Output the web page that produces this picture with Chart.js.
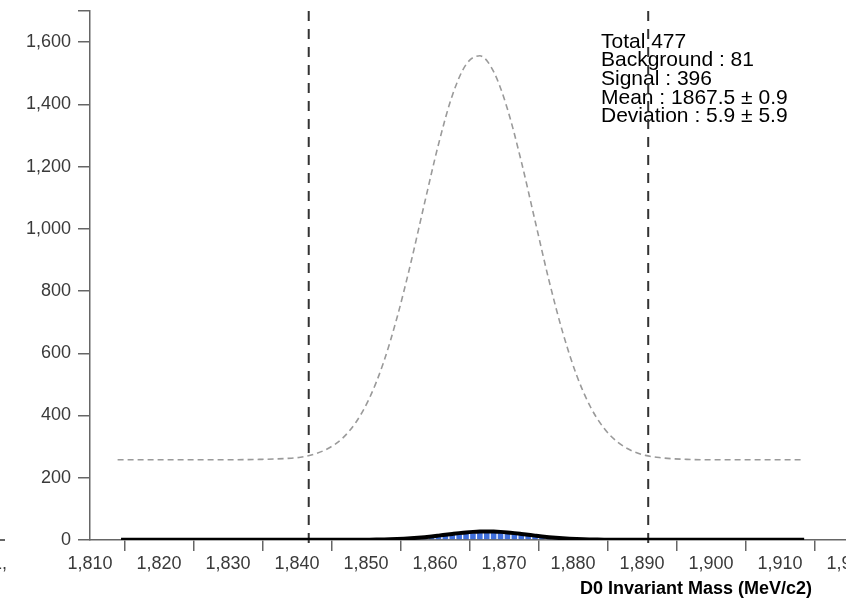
<!DOCTYPE html>
<html>
<head>
<meta charset="utf-8">
<script src="https://cdn.jsdelivr.net/npm/chart.js@4.4.1/dist/chart.umd.min.js"></script>
<style>
  html, body { margin: 0; padding: 0; background: #fff; }
  #wrap { position: relative; width: 846px; height: 601px; overflow: hidden; }
  #massChart { position: absolute; left: 0; top: 0; }
  #edgeLabel { position: absolute; left: -8px; top: 552px; font: 18px "Liberation Sans", Arial, sans-serif; color: #3a3a3a; line-height: 22px; }
  #edgeTick { position: absolute; left: 0; top: 539px; width: 5px; height: 2px; background: #666; }
</style>
</head>
<body>
<div id="wrap">
  <canvas id="massChart" width="900" height="601"></canvas>
  <div id="edgeTick"></div>
  <span id="edgeLabel">1,</span>
</div>
<script>
// scaled fit curve (grey dashed)
const fitX = [1814, 1830.5, 1834.5, 1838.5, 1840.5, 1842.5, 1844.5, 1846.5, 1848.5, 1850.5,
  1852.5, 1854.5, 1856.5, 1858.5, 1860.5, 1862.5, 1864.5, 1866.5, 1868.5, 1870.5,
  1872.5, 1874.5, 1876.5, 1878.5, 1880.5, 1882.5, 1884.5, 1886.5, 1888.5, 1890.5,
  1892.5, 1896.5, 1900.5, 1913.5];
const fitY = [258, 258, 259, 262, 266, 276, 294, 325, 377, 456,
  568, 715, 891, 1084, 1271, 1428, 1528, 1556, 1505, 1385,
  1217, 1026, 836, 668, 531, 429, 359, 314, 287, 272,
  265, 259, 258, 258];

// fit on the histogram scale (black)
const sigX = [1814.5, 1845.5, 1850.5, 1851.5, 1852.5, 1853.5, 1854.5, 1855.5, 1856.5, 1857.5,
  1858.5, 1859.5, 1860.5, 1861.5, 1862.5, 1863.5, 1864.5, 1865.5, 1866.5, 1867.5,
  1868.5, 1869.5, 1870.5, 1871.5, 1872.5, 1873.5, 1874.5, 1875.5, 1876.5, 1877.5,
  1878.5, 1879.5, 1880.5, 1881.5, 1882.5, 1883.5, 1884.5, 1889.5, 1913.5];
const sigY = [0.8, 0.8, 1.2, 1.5, 1.9, 2.4, 3.2, 4.2, 5.5, 7.2,
  9.2, 11.5, 14.1, 16.8, 19.5, 22.1, 24.4, 26.1, 27.2, 27.6,
  27.2, 26.1, 24.4, 22.1, 19.5, 16.8, 14.1, 11.5, 9.2, 7.2,
  5.5, 4.2, 3.2, 2.4, 1.9, 1.5, 1.2, 0.8, 0.8];

// histogram bins (1 MeV)
const binX = [1850.5, 1851.5, 1852.5, 1853.5, 1854.5, 1855.5, 1856.5, 1857.5, 1858.5, 1859.5,
  1860.5, 1861.5, 1862.5, 1863.5, 1864.5, 1865.5, 1866.5, 1867.5, 1868.5, 1869.5,
  1870.5, 1871.5, 1872.5, 1873.5, 1874.5, 1875.5, 1876.5, 1877.5, 1878.5, 1879.5,
  1880.5, 1881.5, 1882.5, 1883.5, 1884.5];
const binY = [1, 2, 1, 3, 3, 5, 6, 7, 10, 11,
  15, 16, 20, 21, 25, 24, 28, 26, 29, 25,
  24, 22, 18, 17, 13, 12, 8, 7, 6, 4,
  3, 2, 2, 1, 1];

// selection window
const cutLines = [1841.7, 1890.9];

const statsLines = [
  "Total 477",
  "Background : 81",
  "Signal : 396",
  "Mean : 1867.5 \u00b1 0.9",
  "Deviation : 5.9 \u00b1 5.9"
];
const xTitle = "D0 Invariant Mass (MeV/c2)";

const FONT = '"Liberation Sans", Arial, sans-serif';
Chart.defaults.font.family = FONT;

const toPoints = (xs, ys) => xs.map((x, i) => ({ x: x, y: ys[i] }));

const overlayText = {
  id: "overlayText",
  beforeDatasetsDraw(chart) {
    const c = chart.ctx;
    c.save();
    c.fillStyle = "#000";
    c.textBaseline = "alphabetic";
    c.font = "21px " + FONT;
    statsLines.forEach((t, i) => c.fillText(t, 601, 47.5 + i * 18.7));
    c.font = "bold 18px " + FONT;
    c.textAlign = "right";
    c.fillText(xTitle, 812, 594);
    c.restore();
  }
};

// dashes start at the top, run down past the axis
const cutSets = cutLines.map((cx) => ({
  type: "line",
  data: [{ x: cx, y: 1700 }, { x: cx, y: -32 }],
  borderColor: "#333",
  borderWidth: 2,
  borderDash: [10, 8],
  pointRadius: 0,
  clip: false,
  order: 3,
}));

const ctx = document.getElementById("massChart").getContext("2d");
const massChart = new Chart(ctx, {
  type: "bar",
  data: {
    datasets: [
      {
        type: "line",
        data: toPoints(sigX, sigY),
        borderColor: "#000",
        borderWidth: 4,
        pointRadius: 0,
        cubicInterpolationMode: "monotone",
        order: 0,
      },
      {
        type: "bar",
        data: toPoints(binX, binY),
        backgroundColor: "#3f6fdc",
        borderColor: "#fff",
        borderWidth: 1,
        barPercentage: 1,
        categoryPercentage: 1,
        order: 1,
      },
      {
        type: "line",
        data: toPoints(fitX, fitY),
        borderColor: "#9a9a9a",
        borderWidth: 1.6,
        borderDash: [6, 4],
        pointRadius: 0,
        cubicInterpolationMode: "monotone",
        order: 2,
      },
      ...cutSets,
    ],
  },
  options: {
    responsive: false,
    animation: false,
    layout: { padding: { top: 11, right: 51, left: 0, bottom: 0 } },
    scales: {
      x: {
        type: "linear",
        min: 1810,
        max: 1920,
        offset: false,
        ticks: { stepSize: 10, autoSkip: false, maxRotation: 0, color: "#3a3a3a", font: { size: 18 }, padding: 2 },
        grid: { drawOnChartArea: false, drawTicks: true, tickLength: 11, color: "#666", lineWidth: 1.5 },
        border: { color: "#666", width: 1.5 },
        afterFit(scale) { scale.height = 61; },
      },
      y: {
        min: 0,
        max: 1700,
        ticks: {
          stepSize: 200,
          color: "#3a3a3a",
          font: { size: 18 },
          padding: 7,
          callback: (v) => (v === 1700 ? "" : v.toLocaleString("en-US")),
        },
        grid: { drawOnChartArea: false, drawTicks: true, tickLength: 12, color: "#666", lineWidth: 1.5 },
        border: { color: "#666", width: 1.5 },
        afterFit(scale) {
          scale.width = 90;
          scale.paddingTop = 0;
          scale.paddingBottom = 0;
        },
      },
    },
    plugins: {
      legend: { display: false },
      tooltip: { enabled: false },
    },
  },
  plugins: [overlayText],
});
</script>
</body>
</html>
